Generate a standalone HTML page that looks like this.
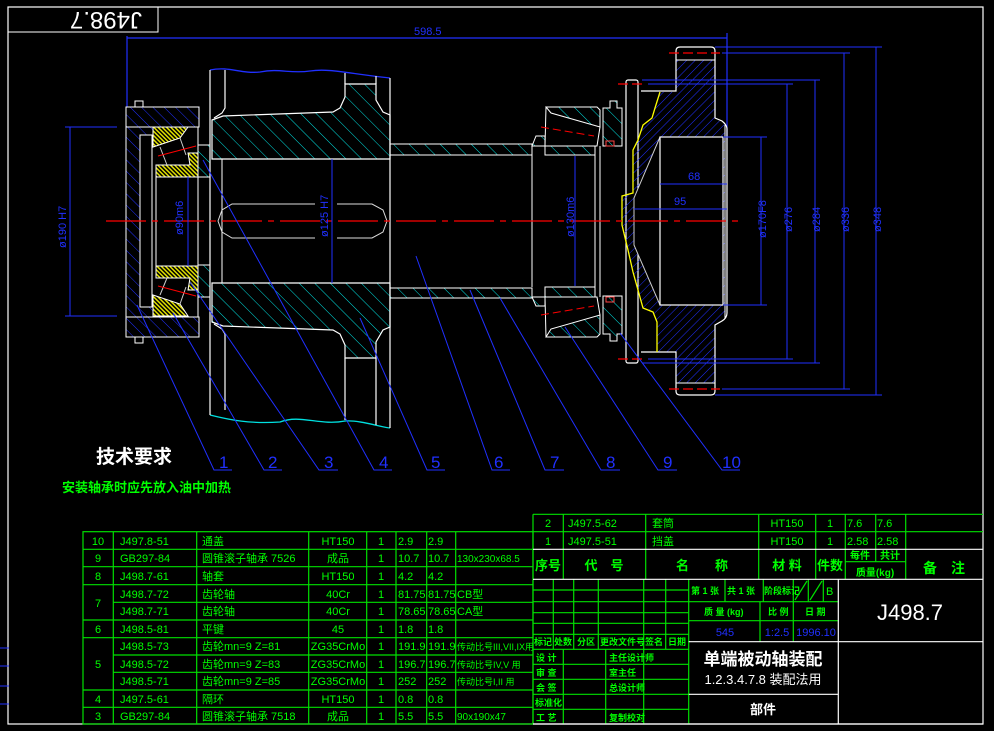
<!DOCTYPE html>
<html><head><meta charset="utf-8"><style>
html,body{margin:0;padding:0;background:#000;}
svg{display:block;}
text{font-family:"Liberation Sans","Noto Sans CJK SC",sans-serif;}
</style></head><body>
<svg width="994" height="731" viewBox="0 0 994 731" xmlns="http://www.w3.org/2000/svg">
<defs>
<pattern id="hc" width="11" height="11" patternUnits="userSpaceOnUse" patternTransform="rotate(-45)"><line x1="0" y1="0" x2="0" y2="11" stroke="#00e0e0" stroke-width="1"/></pattern>
<pattern id="hb" width="8" height="8" patternUnits="userSpaceOnUse" patternTransform="rotate(-45)"><line x1="0" y1="0" x2="0" y2="8" stroke="#2030ff" stroke-width="1"/></pattern>
<pattern id="hb2" width="6" height="6" patternUnits="userSpaceOnUse" patternTransform="rotate(45)"><line x1="0" y1="0" x2="0" y2="6" stroke="#2030ff" stroke-width="1"/></pattern>
<pattern id="hy" width="3" height="3" patternUnits="userSpaceOnUse" patternTransform="rotate(-45)"><rect x="0" y="0" width="1.5" height="3" fill="#e0e000"/></pattern>
</defs>
<rect width="994" height="731" fill="#000"/>
<rect x="8" y="7" width="975" height="717" fill="none" stroke="#fff" stroke-width="1.2"/>
<rect x="8" y="7" width="150" height="25" fill="none" stroke="#fff" stroke-width="1"/>
<text x="0" y="0" font-size="24" fill="#fff" transform="translate(142,12) rotate(180)" text-anchor="start">J498.7</text>
<g stroke="#2030ff" stroke-width="1"><line x1="0" y1="648" x2="9" y2="648"/><line x1="0" y1="666" x2="9" y2="666"/><line x1="0" y1="686" x2="9" y2="686"/><line x1="0" y1="704" x2="9" y2="704"/></g>

<g stroke="#2030ff" stroke-width="1.2" fill="none">
<line x1="127" y1="38" x2="727" y2="38"/>
<line x1="127" y1="36" x2="127" y2="107"/>
<line x1="727" y1="33" x2="727" y2="140"/>
</g>
<text x="414" y="35" font-size="11" fill="#2030ff">598.5</text>

<rect x="126" y="107" width="73" height="20" fill="url(#hb)" stroke="#fff"/>
<rect x="126" y="317" width="73" height="20" fill="url(#hb)" stroke="#fff"/>
<path d="M135,107 v-6 h8 v6 M135,337 v6 h8 v-6" fill="none" stroke="#fff"/>
<path d="M126,127 H153 V135 H140 V307 H153 V317 H126 Z" fill="url(#hb)" stroke="#fff"/>
<rect x="140" y="135" width="12" height="172" fill="none" stroke="#fff"/>
<line x1="198" y1="127" x2="198" y2="317" stroke="#fff"/>
<line x1="156" y1="177" x2="156" y2="266" stroke="#fff"/>
<path d="M153,127 H188 L180,138 L153,147 Z" fill="url(#hy)" stroke="#fff"/>
<path d="M188,153 H198 V177 H156 V165 H190 Z" fill="url(#hy)" stroke="#fff"/>
<path d="M156,266 H198 V290 H188 L190,278 H156 Z" fill="url(#hy)" stroke="#fff"/>
<path d="M153,295 L180,304 L188,316 H153 Z" fill="url(#hy)" stroke="#fff"/>
<path d="M160,147 L167,165 M180,138 L186,155 M167,278 L160,295 M186,287 L180,304" stroke="#ccc" fill="none"/>
<line x1="158" y1="156" x2="196" y2="146" stroke="#f00"/>
<line x1="158" y1="286" x2="196" y2="296" stroke="#f00"/>
<path d="M198,145 H210 V177 H198 Z" fill="url(#hc)" stroke="#fff"/>
<path d="M198,265 H210 V297 H198 Z" fill="url(#hc)" stroke="#fff"/>

<path d="M210,70 C230,66 240,74 260,72 C280,68 290,74 310,71 C330,68 350,74 390,78" fill="none" stroke="#2030ff" stroke-width="1.3"/>
<path d="M210,415 C230,420 250,424 280,422 C300,414 320,426 345,421 C360,420 380,427 390,428" fill="none" stroke="#00e0e0" stroke-width="1.3"/>
<g stroke="#fff" fill="none" stroke-width="1.2">
<line x1="210" y1="70" x2="210" y2="415"/>
<path d="M225,70 V108 L222,113 L214,118"/>
<path d="M225,410 V334 L222,329 L214,324"/>
<line x1="345" y1="73" x2="345" y2="84"/><line x1="345" y1="358" x2="345" y2="420"/>
<line x1="376" y1="76" x2="376" y2="84"/><line x1="376" y1="358" x2="376" y2="425"/>
<line x1="390" y1="78" x2="390" y2="428"/>
</g>
<path d="M212,120 L223,116 L333,112 L340,108 L345,97 V84 H376 V100 L383,112 L390,115 V159 H212 Z" fill="url(#hc)" stroke="#fff" stroke-width="1.2"/>
<path d="M212,322 L223,326 L333,330 L340,334 L345,345 V358 H376 V342 L383,330 L390,327 V283 H212 Z" fill="url(#hc)" stroke="#fff" stroke-width="1.2"/>
<line x1="222" y1="159" x2="222" y2="283" stroke="#fff"/>
<path d="M315,204 H232 L222,210 L218,221 L222,232 L232,238 H315 M337,204 H372 L383,210 L387,221 L383,232 L372,238 H337" fill="none" stroke="#ddd"/>

<rect x="390" y="144" width="142" height="11" fill="url(#hc)" stroke="#fff"/>
<rect x="390" y="288" width="142" height="10" fill="url(#hc)" stroke="#fff"/>
<path d="M532,146 L536,136 H545 V155 H595 V146 Z" fill="url(#hc)" stroke="#fff"/>
<path d="M532,297 L536,306 H545 V287 H595 V297 Z" fill="url(#hc)" stroke="#fff"/>
<line x1="532" y1="155" x2="532" y2="287" stroke="#fff"/>
<line x1="595" y1="146" x2="595" y2="297" stroke="#fff"/>
<line x1="600" y1="146" x2="600" y2="297" stroke="#fff"/>
<path d="M546,107 H597 L600,110 V127 L551,113 Z" fill="url(#hc)" stroke="#fff"/>
<path d="M546,107 L545,146 H597 L600,127" fill="none" stroke="#fff"/>
<path d="M546,337 H597 L600,334 V315 L551,329 Z" fill="url(#hc)" stroke="#fff"/>
<path d="M546,337 L545,297 H597 L600,315" fill="none" stroke="#fff"/>
<line x1="541" y1="127" x2="594" y2="136" stroke="#f00" stroke-dasharray="8,4"/>
<line x1="541" y1="315" x2="594" y2="306" stroke="#f00" stroke-dasharray="8,4"/>
<path d="M603,108 H610 V101 H617 V108 H622 V146 H603 Z" fill="url(#hc)" stroke="#fff"/>
<path d="M603,334 H610 V341 H617 V334 H622 V296 H603 Z" fill="url(#hc)" stroke="#fff"/>
<rect x="606" y="141" width="8" height="5" fill="none" stroke="#f44"/>
<rect x="606" y="297" width="8" height="5" fill="none" stroke="#f44"/>
<rect x="626" y="80" width="12" height="283" rx="2" fill="#000" stroke="#fff" stroke-width="1.2"/>

<path d="M676,60 H715 V118 L725,125 V318 L715,325 V383 H676 V352 H657 L657,322 L653,312 L643,308 L633,272 L628,250 L622,225 L622,196 L633,193 L633,150 L638,140 L643,125 L652,118 L655,108 L660,92 H676 Z" fill="url(#hb2)"/>
<path d="M641,91 H676 V51 Q676,47 680,47 H711 Q715,47 715,51 V118 L722,121 Q727,125 727,129 V313 Q727,318 722,321 L715,325 V391 Q715,395 711,395 H680 Q676,395 676,391 V352 H641" fill="none" stroke="#fff" stroke-width="1.2"/>
<line x1="676" y1="60" x2="715" y2="60" stroke="#fff"/>
<line x1="676" y1="383" x2="715" y2="383" stroke="#fff"/>
<path d="M660,92 L655,108 L652,118 L643,125 L638,140 L633,150 L633,193 L622,196 L622,225 L628,250 L633,272 L643,308 L653,312 L657,322 L657,352" fill="none" stroke="#ff0" stroke-width="1.3"/>
<path d="M660,137 L634,198 V245 L660,305 Z" fill="#000"/>
<path d="M660,137 L634,198 V245 L660,305" fill="none" stroke="#ccc"/>
<rect x="660" y="137" width="63" height="168" fill="#000" stroke="#fff" stroke-width="1.2"/>
<line x1="725" y1="125" x2="725" y2="318" stroke="#fff"/>
<g stroke="#f00" stroke-width="1.2" stroke-dasharray="10,4">
<line x1="669" y1="53" x2="720" y2="53"/><line x1="669" y1="389" x2="720" y2="389"/>
<line x1="618" y1="84" x2="646" y2="84"/><line x1="618" y1="359" x2="646" y2="359"/>
</g>
<line x1="106" y1="221" x2="738" y2="221" stroke="#f00" stroke-width="1.2" stroke-dasharray="40,6,6,6"/>

<g stroke="#2030ff" stroke-width="1" fill="none">
<line x1="715" y1="47" x2="882" y2="47"/><line x1="715" y1="395" x2="882" y2="395"/>
<line x1="722" y1="53" x2="850" y2="53"/><line x1="722" y1="389" x2="850" y2="389"/>
<line x1="642" y1="80" x2="820" y2="80"/><line x1="642" y1="363" x2="820" y2="363"/>
<line x1="648" y1="84" x2="793" y2="84"/><line x1="648" y1="359" x2="793" y2="359"/>
<line x1="723" y1="137" x2="767" y2="137"/><line x1="723" y1="305" x2="767" y2="305"/>
<line x1="876" y1="47" x2="876" y2="395"/>
<line x1="844" y1="53" x2="844" y2="389"/>
<line x1="815" y1="80" x2="815" y2="363"/>
<line x1="787" y1="84" x2="787" y2="359"/>
<line x1="761" y1="137" x2="761" y2="305"/>
<line x1="660" y1="184" x2="727" y2="184"/>
<line x1="634" y1="209" x2="727" y2="209"/>
<line x1="70" y1="127" x2="70" y2="316"/>
<line x1="65" y1="127" x2="117" y2="127"/><line x1="65" y1="316" x2="117" y2="316"/>
<line x1="188" y1="177" x2="188" y2="266"/>
<line x1="332" y1="159" x2="332" y2="283"/>
<line x1="575" y1="156" x2="575" y2="286"/>
</g>
<g font-size="11" fill="#2030ff">
<text x="688" y="180">68</text>
<text x="674" y="205">95</text>
<text transform="translate(766,238) rotate(-90)">ø170F8</text>
<text transform="translate(792,232) rotate(-90)">ø276</text>
<text transform="translate(820,232) rotate(-90)">ø284</text>
<text transform="translate(849,232) rotate(-90)">ø336</text>
<text transform="translate(881,232) rotate(-90)">ø348</text>
<text transform="translate(66,248) rotate(-90)">ø190 H7</text>
<text transform="translate(183,235) rotate(-90)">ø90m6</text>
<text transform="translate(328,237) rotate(-90)">ø125 H7</text>
<text transform="translate(574,237) rotate(-90)">ø130m6</text>
</g>

<g stroke="#2030ff" stroke-width="1" fill="none">
<polyline points="137,305 214,470 232,470"/>
<polyline points="173,313 264,470 282,470"/>
<polyline points="190,282 319,470 338,470"/>
<polyline points="203,160 374,470 392,470"/>
<polyline points="360,318 427,470 445,470"/>
<polyline points="416,256 492,470 510,470"/>
<polyline points="470,290 545,470 564,470"/>
<polyline points="500,298 601,470 620,470"/>
<polyline points="565,327 658,470 677,470"/>
<polyline points="620,333 722,470 740,470"/>
</g>
<g font-size="17" fill="#2030ff">
<text x="219" y="468">1</text><text x="268" y="468">2</text><text x="324" y="468">3</text><text x="379" y="468">4</text><text x="431" y="468">5</text><text x="494" y="468">6</text><text x="550" y="468">7</text><text x="606" y="468">8</text><text x="663" y="468">9</text><text x="722" y="468">10</text>
</g>

<text x="96" y="463" font-size="19" fill="#fff" font-weight="bold">技术要求</text>
<text x="62" y="492" font-size="13" fill="#00ff00" font-weight="bold">安装轴承时应先放入油中加热</text>

<g stroke="#00e000" stroke-width="1.2" fill="none">
<rect x="83" y="531.7" width="450" height="192.3"/>
<line x1="113.3" y1="531.7" x2="113.3" y2="724"/><line x1="196.7" y1="531.7" x2="196.7" y2="724"/><line x1="308.7" y1="531.7" x2="308.7" y2="724"/><line x1="366.7" y1="531.7" x2="366.7" y2="724"/><line x1="396" y1="531.7" x2="396" y2="724"/><line x1="426.7" y1="531.7" x2="426.7" y2="724"/><line x1="455.7" y1="531.7" x2="455.7" y2="724"/>
<line x1="83" y1="549.3" x2="533" y2="549.3"/><line x1="83" y1="566.7" x2="533" y2="566.7"/><line x1="83" y1="584.7" x2="533" y2="584.7"/><line x1="113.3" y1="602.3" x2="533" y2="602.3"/><line x1="83" y1="620" x2="533" y2="620"/><line x1="83" y1="637.7" x2="533" y2="637.7"/><line x1="113.3" y1="655" x2="533" y2="655"/><line x1="113.3" y1="672.3" x2="533" y2="672.3"/><line x1="83" y1="690" x2="533" y2="690"/><line x1="83" y1="707.3" x2="533" y2="707.3"/>
</g>
<g font-size="11" fill="#00ff00">
<g text-anchor="middle">
<text x="98" y="545">10</text><text x="98" y="562">9</text><text x="98" y="580">8</text><text x="98" y="607">7</text><text x="98" y="633">6</text><text x="98" y="668">5</text><text x="98" y="703">4</text><text x="98" y="720">3</text>
<text x="338" y="545">HT150</text><text x="338" y="562">成品</text><text x="338" y="580">HT150</text><text x="338" y="598">40Cr</text><text x="338" y="615">40Cr</text><text x="338" y="633">45</text><text x="338" y="650">ZG35CrMo</text><text x="338" y="668">ZG35CrMo</text><text x="338" y="685">ZG35CrMo</text><text x="338" y="703">HT150</text><text x="338" y="720">成品</text>
<text x="381" y="545">1</text><text x="381" y="562">1</text><text x="381" y="580">1</text><text x="381" y="598">1</text><text x="381" y="615">1</text><text x="381" y="633">1</text><text x="381" y="650">1</text><text x="381" y="668">1</text><text x="381" y="685">1</text><text x="381" y="703">1</text><text x="381" y="720">1</text>
</g>
<text x="120" y="545">J497.8-51</text><text x="120" y="562">GB297-84</text><text x="120" y="580">J498.7-61</text><text x="120" y="598">J498.7-72</text><text x="120" y="615">J498.7-71</text><text x="120" y="633">J498.5-81</text><text x="120" y="650">J498.5-73</text><text x="120" y="668">J498.5-72</text><text x="120" y="685">J498.5-71</text><text x="120" y="703">J497.5-61</text><text x="120" y="720">GB297-84</text>
<text x="202" y="545">通盖</text><text x="202" y="562">圆锥滚子轴承 7526</text><text x="202" y="580">轴套</text><text x="202" y="598">齿轮轴</text><text x="202" y="615">齿轮轴</text><text x="202" y="633">平键</text><text x="202" y="650">齿轮mn=9 Z=81</text><text x="202" y="668">齿轮mn=9 Z=83</text><text x="202" y="685">齿轮mn=9 Z=85</text><text x="202" y="703">隔环</text><text x="202" y="720">圆锥滚子轴承 7518</text>
<text x="398" y="545">2.9</text><text x="398" y="562">10.7</text><text x="398" y="580">4.2</text><text x="398" y="598">81.75</text><text x="398" y="615">78.65</text><text x="398" y="633">1.8</text><text x="398" y="650">191.9</text><text x="398" y="668">196.7</text><text x="398" y="685">252</text><text x="398" y="703">0.8</text><text x="398" y="720">5.5</text>
<text x="428" y="545">2.9</text><text x="428" y="562">10.7</text><text x="428" y="580">4.2</text><text x="428" y="598">81.75</text><text x="428" y="615">78.65</text><text x="428" y="633">1.8</text><text x="428" y="650">191.9</text><text x="428" y="668">196.7</text><text x="428" y="685">252</text><text x="428" y="703">0.8</text><text x="428" y="720">5.5</text>
<text x="457" y="562" font-size="10">130x230x68.5</text><text x="457" y="598">CB型</text><text x="457" y="615">CA型</text><text x="457" y="650" font-size="9">传动比号III,VII,IX用</text><text x="457" y="668" font-size="9">传动比号IV,V 用</text><text x="457" y="685" font-size="9">传动比号I,II 用</text><text x="457" y="720" font-size="10">90x190x47</text>
</g>

<g stroke="#00e000" stroke-width="1.2" fill="none">
<line x1="533" y1="514.3" x2="983" y2="514.3"/><line x1="533" y1="531.7" x2="983" y2="531.7"/>
<line x1="533" y1="514.3" x2="533" y2="724"/>
<line x1="563.3" y1="514.3" x2="563.3" y2="579.3"/><line x1="645.7" y1="514.3" x2="645.7" y2="579.3"/><line x1="758.7" y1="514.3" x2="758.7" y2="579.3"/><line x1="815.7" y1="514.3" x2="815.7" y2="579.3"/><line x1="845.3" y1="514.3" x2="845.3" y2="579.3"/><line x1="875.7" y1="514.3" x2="875.7" y2="561.7"/><line x1="905.7" y1="514.3" x2="905.7" y2="579.3"/>
<line x1="845.3" y1="561.7" x2="905.7" y2="561.7"/>
<line x1="553.3" y1="579.3" x2="553.3" y2="649.3"/><line x1="573.7" y1="579.3" x2="573.7" y2="649.3"/><line x1="598.3" y1="579.3" x2="598.3" y2="649.3"/><line x1="643.7" y1="579.3" x2="643.7" y2="724"/><line x1="665.7" y1="579.3" x2="665.7" y2="649.3"/>
<line x1="563.3" y1="649.3" x2="563.3" y2="724"/><line x1="605.7" y1="649.3" x2="605.7" y2="724"/>
<line x1="533" y1="590" x2="688.7" y2="590"/><line x1="533" y1="601.7" x2="688.7" y2="601.7"/><line x1="533" y1="612.7" x2="688.7" y2="612.7"/><line x1="533" y1="623.3" x2="688.7" y2="623.3"/><line x1="533" y1="634.3" x2="688.7" y2="634.3"/><line x1="533" y1="664.3" x2="688.7" y2="664.3"/><line x1="533" y1="679.3" x2="688.7" y2="679.3"/><line x1="533" y1="694.3" x2="688.7" y2="694.3"/><line x1="533" y1="709.3" x2="688.7" y2="709.3"/>
<line x1="533" y1="649.3" x2="688.7" y2="649.3"/>
<line x1="688.7" y1="579.3" x2="688.7" y2="724"/>
<line x1="725" y1="579.3" x2="725" y2="601.7"/><line x1="763.3" y1="579.3" x2="763.3" y2="601.7"/><line x1="793.3" y1="579.3" x2="793.3" y2="641.7"/><line x1="808.3" y1="579.3" x2="808.3" y2="601.7"/><line x1="823.3" y1="579.3" x2="823.3" y2="601.7"/><line x1="760" y1="601.7" x2="760" y2="641.7"/>
<line x1="688.7" y1="601.7" x2="838.3" y2="601.7"/><line x1="688.7" y1="620.7" x2="838.3" y2="620.7"/>
<line x1="795" y1="600" x2="807" y2="581"/><line x1="810" y1="600" x2="822" y2="581"/>
</g>
<g stroke="#fff" stroke-width="1.2" fill="none">
<line x1="533" y1="549.3" x2="983" y2="549.3"/><line x1="533" y1="579.3" x2="983" y2="579.3"/>
<line x1="688.7" y1="641.7" x2="983" y2="641.7"/><line x1="688.7" y1="694.3" x2="838.3" y2="694.3"/>
<line x1="838.3" y1="579.3" x2="838.3" y2="724"/>
<line x1="533" y1="724" x2="983" y2="724"/>
</g>
<g font-size="11" fill="#00ff00">
<g text-anchor="middle">
<text x="548" y="527">2</text><text x="548" y="545">1</text>
<text x="787" y="527">HT150</text><text x="787" y="545">HT150</text>
<text x="830" y="527">1</text><text x="830" y="545">1</text>
<text x="548" y="570" font-size="13" font-weight="bold">序号</text>
<text x="604" y="570" font-size="13" font-weight="bold">代　号</text>
<text x="702" y="570" font-size="13" font-weight="bold">名　　称</text>
<text x="787" y="570" font-size="13" font-weight="bold">材 料</text>
<text x="830" y="570" font-size="13" font-weight="bold">件数</text>
<text x="860" y="559" font-size="10" font-weight="bold">每件</text><text x="890" y="559" font-size="10" font-weight="bold">共计</text>
<text x="875" y="576" font-size="10" font-weight="bold">质量(kg)</text>
<text x="944" y="573" font-size="14" font-weight="bold">备　注</text>
</g>
<text x="568" y="527">J497.5-62</text><text x="568" y="545">J497.5-51</text>
<text x="652" y="527">套筒</text><text x="652" y="545">挡盖</text>
<text x="847" y="527">7.6</text><text x="877" y="527">7.6</text><text x="847" y="545">2.58</text><text x="877" y="545">2.58</text>
<g font-size="9" font-weight="bold">
<text x="534" y="645">标记</text><text x="554" y="645">处数</text><text x="577" y="645">分区</text><text x="600" y="645">更改文件号</text><text x="645" y="645">签名</text><text x="668" y="645">日期</text>
<text x="536" y="661">设 计</text><text x="536" y="676">审 查</text><text x="536" y="691">会 签</text><text x="535" y="706">标准化</text><text x="536" y="721">工 艺</text>
<text x="609" y="661">主任设计师</text><text x="609" y="676">室主任</text><text x="609" y="691">总设计师</text><text x="609" y="721">复制校对</text>
<text x="691" y="594">第 1 张</text><text x="727" y="594">共 1 张</text><text x="764" y="594">阶段标记</text>
<text x="704" y="615">质 量 (kg)</text><text x="768" y="615">比 例</text><text x="805" y="615">日 期</text>
</g>
<text x="826" y="595" font-size="11">B</text>
</g>
<g font-size="11" fill="#2030ff" text-anchor="middle"><text x="725" y="636">545</text><text x="777" y="636">1:2.5</text><text x="816" y="636">1996.10</text></g>
<text x="910" y="620" font-size="22" fill="#fff" text-anchor="middle">J498.7</text>
<text x="763" y="665" font-size="17" fill="#fff" font-weight="bold" text-anchor="middle">单端被动轴装配</text>
<text x="763" y="684" font-size="13" fill="#fff" text-anchor="middle">1.2.3.4.7.8 装配法用</text>
<text x="763" y="714" font-size="13" fill="#fff" font-weight="bold" text-anchor="middle">部件</text>
</svg>
</body></html>
